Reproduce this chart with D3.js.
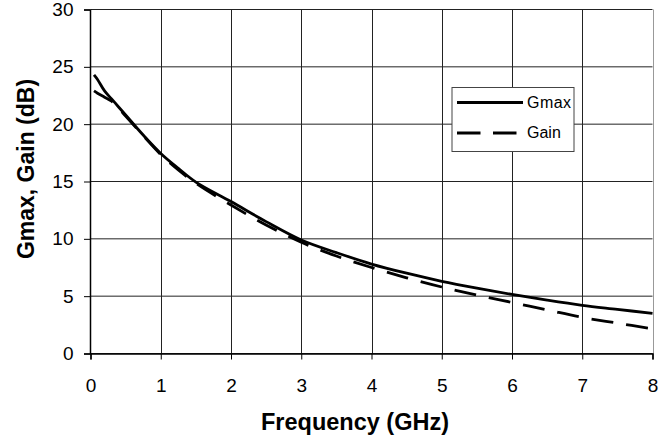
<!DOCTYPE html>
<html>
<head>
<meta charset="utf-8">
<script src="https://cdn.jsdelivr.net/npm/d3@7"></script>
<style>
  body { margin: 0; background: #fff; }
  text { font-family: "Liberation Sans", Arial, sans-serif; }
</style>
</head>
<body>
<svg></svg>
<script>
const width = 672
const height = 439
const marginTop = 9.5
const marginRight = 19
const marginBottom = 85.5
const marginLeft = 90

// values
const freq = [0.05, 0.1, 0.2, 0.3, 0.4, 0.5, 0.75, 1, 1.25, 1.5, 2, 2.5, 3, 3.5, 4, 4.5, 5, 5.5, 6, 6.5, 7, 7.5, 8]
const gmax = [24.3, 23.9, 22.9, 22.2, 21.5, 20.8, 19.05, 17.45, 16.15, 14.95, 13.25, 11.5, 9.9, 8.8, 7.8, 7.0, 6.3, 5.7, 5.15, 4.65, 4.2, 3.85, 3.5]
const gain = [22.9, 22.7, 22.35, 22.0, 21.4, 20.7, 19.0, 17.35, 16.0, 14.85, 12.95, 11.2, 9.7, 8.5, 7.5, 6.6, 5.8, 5.1, 4.45, 3.8, 3.15, 2.65, 2.15]
const xTicks = [0, 1, 2, 3, 4, 5, 6, 7, 8]
const yTicks = [0, 5, 10, 15, 20, 25, 30]
const seriesNames = ["Gmax", "Gain"]

const svg = d3.select("svg")
    .attr("width", width)
    .attr("height", height)

const chartWidth = width - marginLeft - marginRight
const chartHeight = height - marginTop - marginBottom

const g = svg.append("g").attr("transform", `translate(${marginLeft}, ${marginTop})`)

const x = d3.scaleLinear().domain([0, 8]).range([0.5, chartWidth - 0.5])
const y = d3.scaleLinear().domain([0, 30]).range([chartHeight, 0])

// grid
g.append("g").selectAll("line").data(yTicks).join("line")
    .attr("x1", x(0)).attr("x2", x(8))
    .attr("y1", d => y(d)).attr("y2", d => y(d))
    .attr("stroke", "#222").attr("stroke-width", 1)
g.append("g").selectAll("line").data(xTicks.slice(1)).join("line")
    .attr("x1", d => Math.round(x(d)) + 0.5).attr("x2", d => Math.round(x(d)) + 0.5)
    .attr("y1", y(0)).attr("y2", y(30))
    .attr("stroke", d => d === 8 ? "#999" : "#222").attr("stroke-width", 1)

// axes
const yAxis = g.append("g")
    .call(d3.axisLeft(y).tickValues(yTicks).tickSize(6).tickPadding(10.5))
const xAxis = g.append("g")
    .attr("transform", `translate(0, ${chartHeight})`)
    .call(d3.axisBottom(x).tickValues(xTicks).tickSize(6).tickPadding(19))
;[xAxis, yAxis].forEach(ax => {
    ax.select(".domain").attr("stroke", "#000").attr("stroke-width", 1.5)
    ax.selectAll("line").attr("stroke", "#000")
    ax.selectAll("text").attr("font-size", "19px").attr("fill", "#000")
        .attr("font-family", "Liberation Sans, Arial, sans-serif")
})

// lines
const lineG = d3.line().x((d, i) => x(freq[i])).y(d => y(d)).curve(d3.curveCatmullRom)
g.append("path").datum(gmax)
    .attr("d", lineG)
    .attr("fill", "none").attr("stroke", "#000").attr("stroke-width", 2.8)
g.append("path").datum(gain)
    .attr("d", lineG)
    .attr("fill", "none").attr("stroke", "#000").attr("stroke-width", 2.8)
    .attr("stroke-dasharray", "22,13")

// legend
const legend = svg.append("g").attr("transform", "translate(452, 87)")
legend.append("rect")
    .attr("x", 0).attr("y", 0.5).attr("width", 122).attr("height", 64)
    .attr("fill", "#fff").attr("stroke", "#444").attr("stroke-width", 1)
seriesNames.forEach((name, i) => {
    const ly = 15.5 + i * 30.5
    legend.append("line")
        .attr("x1", 5).attr("x2", 71).attr("y1", ly).attr("y2", ly)
        .attr("stroke", "#000").attr("stroke-width", 3)
        .attr("stroke-dasharray", i === 1 ? "23.5,12.5" : null)
    legend.append("text")
        .attr("x", 75).attr("y", ly + 5.2)
        .attr("font-size", "16px")
        .attr("textLength", i === 0 ? 44 : null)
        .text(name)
})

// axis titles
svg.append("text")
    .attr("x", 355).attr("y", 430)
    .attr("text-anchor", "middle")
    .attr("font-size", "23.5px").attr("font-weight", "bold")
    .text("Frequency (GHz)")
svg.append("text")
    .attr("transform", `translate(34, 169) rotate(-90)`)
    .attr("text-anchor", "middle")
    .attr("font-size", "23px").attr("font-weight", "bold")
    .text("Gmax, Gain (dB)")
</script>
</body>
</html>
